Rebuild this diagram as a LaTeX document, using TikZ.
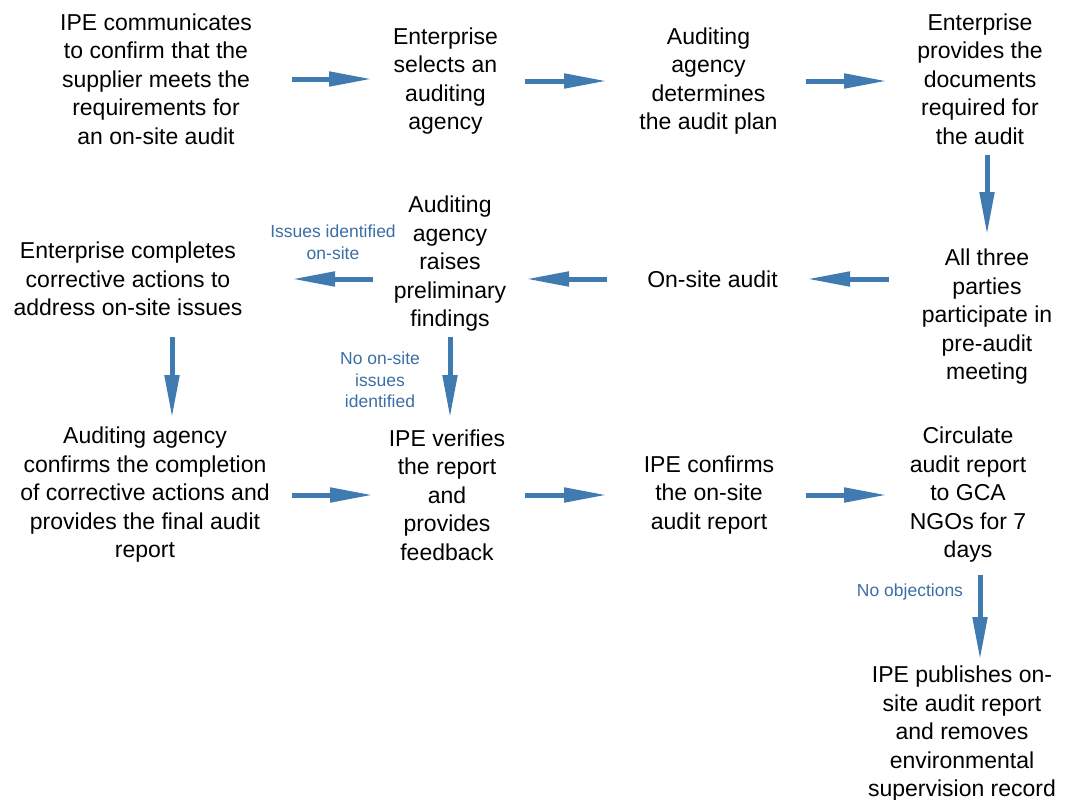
\documentclass[tikz,border=0pt]{standalone}
\usepackage{fontspec}
\setmainfont{Liberation Sans}
\usetikzlibrary{arrows.meta}
\definecolor{arr}{HTML}{3F7AB0}
\definecolor{lab}{HTML}{3C6EA6}
\begin{document}
\begin{tikzpicture}[x=1pt,y=-1pt,
 box/.style={align=center, font=\fontsize{23}{28.5}\selectfont, inner sep=0pt},
 flow/.style={draw=arr, line width=5pt, -{Triangle[length=43pt,width=14pt]}},
 lbl/.style={align=center, text=lab, font=\fontsize{17.5}{21.5}\selectfont, inner sep=0pt}]
\useasboundingbox (0,0) rectangle (1065,800);
\node[box] (n1) at (156,79) {IPE communicates\\to confirm that the\\supplier meets the\\requirements for\\an on-site audit};
\node[box] (n2) at (445.5,81) {Enterprise\\selects an\\auditing\\agency};
\node[box] (n3) at (708.5,81) {Auditing\\agency\\determines\\the audit plan};
\node[box] (n4) at (980,79) {Enterprise\\provides the\\documents\\required for\\the audit};
\node[box] (n5) at (987,317) {All three\\parties\\participate in\\pre-audit\\meeting};
\node[box] (n6) at (712.5,279) {On-site audit};
\node[box] (n7) at (450,264) {Auditing\\agency\\raises\\preliminary\\findings};
\node[box] (n8) at (128,279) {Enterprise completes\\corrective actions to\\address on-site issues};
\node[box] (n9) at (145,495) {Auditing agency\\confirms the completion\\of corrective actions and\\provides the final audit\\report};
\node[box] (n10) at (447,495) {IPE verifies\\the report\\and\\provides\\feedback};
\node[box] (n11) at (709,495) {IPE confirms\\the on-site\\audit report};
\node[box] (n12) at (968,495) {Circulate\\audit report\\to GCA\\NGOs for 7\\days};
\node[box] (n13) at (962,734) {IPE publishes on-\\site audit report\\and removes\\environmental\\supervision record};
\node[lbl] (l1) at (333,242) {Issues identified\\on-site};
\node[lbl] (l2) at (380,380) {No on-site\\issues\\identified};
\node[lbl] (l3) at (910,592) {No objections};
% row 1
\draw[flow, shorten <=136pt, shorten >=73.5pt] (n1.center) -- (n1.center -| n2.center);
\draw[flow, shorten <=79.5pt, shorten >=101.5pt] (n2.center) -- (n2.center -| n3.center);
\draw[flow, shorten <=97.5pt, shorten >=93pt] (n3.center) -- (n3.center -| n4.center);
\draw[flow, shorten <=76pt, shorten >=82pt] (n5.center |- n4.center) -- (n5.center);
% row 2
\draw[flow, shorten <=98pt, shorten >=94.5pt] (n5.center |- n6.center) -- (n6.center);
\draw[flow, shorten <=105.5pt, shorten >=76pt] (n6.center) -- (n7.center |- n6.center);
\draw[flow, shorten <=77pt, shorten >=164pt] (n7.center |- n8.center) -- (n8.center);
\draw[flow, shorten <=58pt, shorten >=77pt] ([xshift=44pt]n8.center) -- ([xshift=27pt]n9.center);
\draw[flow, shorten <=73pt, shorten >=77pt] (n7.center) -- (n7.center |- n10.center);
% row 3
\draw[flow, shorten <=147pt, shorten >=74pt] (n9.center) -- (n9.center -| n10.center);
\draw[flow, shorten <=78pt, shorten >=102pt] (n10.center) -- (n10.center -| n11.center);
\draw[flow, shorten <=97pt, shorten >=81pt] (n11.center) -- (n11.center -| n12.center);
\draw[flow, shorten <=80pt, shorten >=74pt] ([xshift=12pt]n12.center) -- ([xshift=18pt]n13.center);
\end{tikzpicture}
\end{document}
